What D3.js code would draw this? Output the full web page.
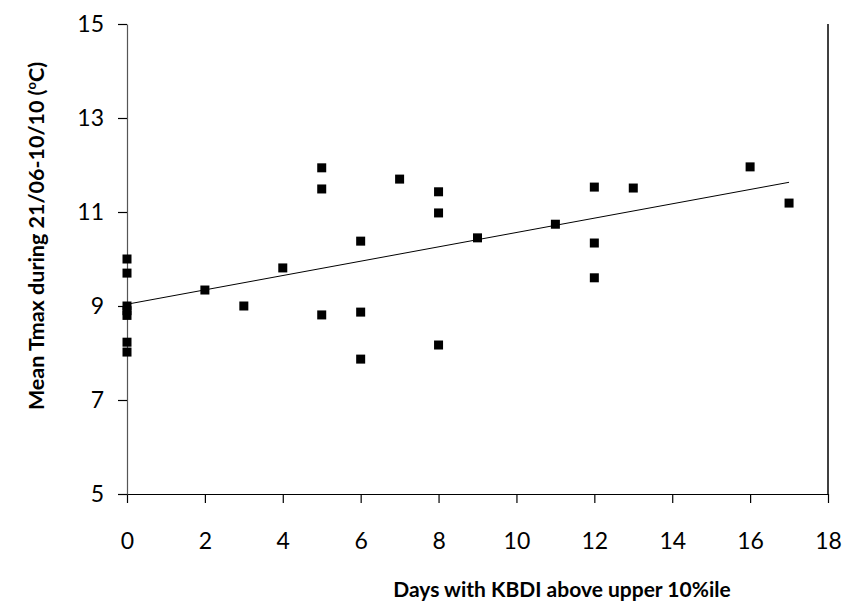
<!DOCTYPE html>
<html>
<head>
<meta charset="utf-8">
<script src="https://cdn.jsdelivr.net/npm/d3@7"></script>
<style>
  body { margin: 0; background: #fff; }
  text { font-family: Lato, "Open Sans", sans-serif; fill: #000; }
</style>
</head>
<body>
<script>
// days with KBDI above upper 10%ile
var days = [0, 0, 0, 0, 0, 0, 0, 2, 3, 4, 5, 5, 5, 6, 6, 6, 7, 8, 8, 8, 9, 11, 12, 12, 12, 13, 16, 17];
// mean Tmax during 21/06-10/10
var tmax = [10.0, 9.7, 9.0, 8.9, 8.8, 8.23, 8.02, 9.34, 9.0, 9.81, 11.94, 11.49, 8.81, 10.38, 8.87, 7.87, 11.7, 11.43, 10.98, 8.17, 10.45, 10.74, 11.53, 10.34, 9.6, 11.51, 11.96, 11.19];
var xTicks = [0, 2, 4, 6, 8, 10, 12, 14, 16, 18];
var yTicks = [5, 7, 9, 11, 13, 15];

function init(){
    var w = 846;
    var h = 607;
    var left = 127, right = 828, top = 24, bottom = 494;

    var svg = d3.select("body")
                .append("svg")
                .attr("width", w)
                .attr("height", h);

    var xScale = d3.scaleLinear().domain([0, 18]).range([left, right]);
    var yScale = d3.scaleLinear().domain([5, 15]).range([bottom, top]);

    //right border
    svg.append("line")
        .attr("x1", right).attr("x2", right)
        .attr("y1", top).attr("y2", bottom)
        .attr("stroke", "#000").attr("stroke-width", 1.5);

    //x axis
    svg.append("g")
        .attr("transform", "translate(0," + bottom + ")")
        .call(d3.axisBottom(xScale).tickValues(xTicks).tickSize(9).tickPadding(30).tickSizeOuter(0));
    //y axis
    var yAxis = svg.append("g")
        .attr("transform", "translate(" + left + ",0)")
        .call(d3.axisLeft(yScale).tickValues(yTicks).tickSize(9).tickPadding(14).tickSizeOuter(0));

    svg.selectAll(".domain, .tick line").attr("stroke", "#000").attr("stroke-width", 1.2);
    yAxis.select(".domain").attr("stroke", "#555");
    svg.selectAll(".tick text")
        .style("font-family", "Lato, 'Open Sans', sans-serif")
        .style("font-size", "23px")
        .attr("fill", "#000");

    //trend line (least squares)
    var mx = d3.mean(days), my = d3.mean(tmax);
    var sxy = d3.sum(days, function(d, i){ return (d - mx) * (tmax[i] - my); });
    var sxx = d3.sum(days, function(d){ return (d - mx) * (d - mx); });
    var slope = sxy / sxx;
    var icpt = my - slope * mx;
    var x0 = d3.min(days), x1 = d3.max(days);
    svg.append("line")
        .attr("x1", xScale(x0)).attr("y1", yScale(icpt + slope * x0))
        .attr("x2", xScale(x1)).attr("y2", yScale(icpt + slope * x1))
        .attr("stroke", "#000").attr("stroke-width", 1);

    //points
    var s = 9;
    svg.selectAll("rect.pt")
        .data(days)
        .enter()
        .append("rect")
        .attr("class", "pt")
        .attr("x", function(d){ return xScale(d) - s / 2; })
        .attr("y", function(d, i){ return yScale(tmax[i]) - s / 2; })
        .attr("width", s)
        .attr("height", s)
        .attr("fill", "#000");

    //axis titles
    svg.append("text")
        .attr("x", 562).attr("y", 597)
        .attr("text-anchor", "middle")
        .style("font-size", "21px").style("font-weight", "bold")
        .text("Days with KBDI above upper 10%ile");

    var yt = svg.append("text")
        .attr("transform", "translate(44," + 236 + ") rotate(-90)")
        .attr("text-anchor", "middle")
        .style("font-size", "21.5px").style("font-weight", "bold");
    yt.append("tspan").text("Mean Tmax during 21/06-10/10 (");
    yt.append("tspan").attr("dy", -8).style("font-size", "13px").text("o");
    yt.append("tspan").attr("dy", 8).text("C)");
}
window.onload = init;
</script>
</body>
</html>
